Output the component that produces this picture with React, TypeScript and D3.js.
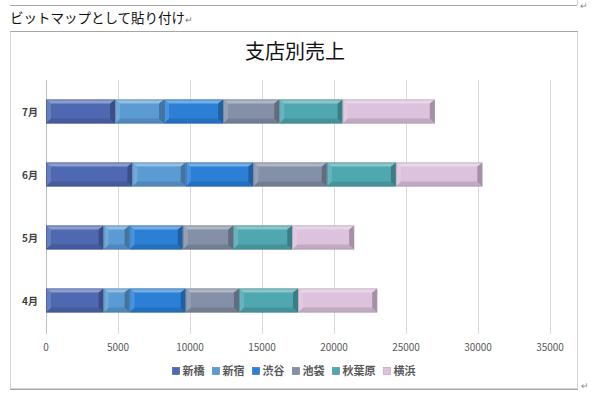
import React from "react";
import * as d3 from "d3";

// 月ごとの店舗別売上
const months = ["7月", "6月", "5月", "4月"];
const stores = ["新橋", "新宿", "渋谷", "池袋", "秋葉原", "横浜"];
const shinbashi = [4800, 6000, 4000, 4000];
const shinjuku = [3400, 3700, 1800, 1800];
const shibuya = [4100, 4700, 3700, 3900];
const ikebukuro = [3900, 5100, 3500, 3700];
const akihabara = [4400, 4800, 4100, 4100];
const yokohama = [6400, 6000, 4300, 5500];
const xTicks = [0, 5000, 10000, 15000, 20000, 25000, 30000, 35000];

const colors = ["#4f68b2", "#5b9bd3", "#2b80d6", "#8490a8", "#4fa7b0", "#dcc2dc"];
const FONT = "'Noto Sans CJK JP', 'Noto Sans', sans-serif";

type Row = { month: string; [k: string]: string | number };

const BevelBar = ({ x0, x1, y0, y1, color }: { x0: number; x1: number; y0: number; y1: number; color: string }) => {
  const b = Math.min(5, (x1 - x0) / 3);
  const bt = 4;
  const bb = 5;
  const edge = d3.color(color)!.darker(0.7).toString();
  const pts = (p: number[][]) => p.map((q) => q.join(",")).join(" ");
  return (
    <g>
      <rect x={x0} y={y0} width={x1 - x0} height={y1 - y0} fill={color} />
      <polygon points={pts([[x0, y0], [x1, y0], [x1 - b, y0 + bt], [x0 + b, y0 + bt]])} fill="#fff" fillOpacity={0.35} />
      <polygon points={pts([[x0, y1], [x1, y1], [x1 - b, y1 - bb], [x0 + b, y1 - bb]])} fill="#000" fillOpacity={0.12} />
      <polygon points={pts([[x0, y0], [x0 + b, y0 + bt], [x0 + b, y1 - bb], [x0, y1]])} fill="#fff" fillOpacity={0.15} />
      <polygon points={pts([[x1, y0], [x1 - b, y0 + bt], [x1 - b, y1 - bb], [x1, y1]])} fill="#000" fillOpacity={0.25} />
      <rect x={x0 + 0.4} y={y0 + 0.4} width={x1 - x0 - 0.8} height={y1 - y0 - 0.8} fill="none" stroke={edge} strokeWidth={0.8} strokeOpacity={0.7} />
    </g>
  );
};

export default function App() {
  const series = [shinbashi, shinjuku, shibuya, ikebukuro, akihabara, yokohama];
  const rows: Row[] = months.map((m, i) => {
    const r: Row = { month: m };
    stores.forEach((s, j) => (r[s] = series[j][i]));
    return r;
  });
  const stacked = d3.stack<Row>().keys(stores)(rows);

  const x = d3.scaleLinear().domain([0, 35000]).range([46, 550]);
  const y = d3.scaleBand().domain(months).range([80, 332]).paddingInner(0.62).paddingOuter(0.31);

  // 凡例の配置
  const charW = 11;
  const itemW = stores.map((s) => 10 + s.length * charW);
  const gap = 8;
  const totalW = d3.sum(itemW) + gap * (stores.length - 1);
  let lx = 294 - totalW / 2;
  const legendPos = itemW.map((w) => {
    const p = lx;
    lx += w + gap;
    return p;
  });

  return (
    <svg width={600} height={397} style={{ position: "absolute", left: 0, top: 0, background: "#fff" }} fontFamily={FONT}>
      {/* 文書の枠 */}
      <line x1={10} x2={577} y1={5.5} y2={5.5} stroke="#a6a6a6" />
      <line x1={577.5} x2={577.5} y1={0} y2={5} stroke="#d0d0d0" />
      <text x={580} y={9} fontSize={9} fill="#888">↵</text>
      <text x={10} y={23} fontSize={13.5} fill="#111">
        ビットマップとして貼り付け<tspan fontSize={9} fill="#777">↵</tspan>
      </text>
      <rect x={10.5} y={31.5} width={567} height={357} fill="#fff" stroke="#d4d4d4" />
      <line x1={10} x2={578} y1={31.5} y2={31.5} stroke="#a6a6a6" />
      <line x1={10} x2={578} y1={389.5} y2={389.5} stroke="#a6a6a6" />
      <text x={581} y={389} fontSize={9} fill="#888">↵</text>

      <text x={295} y={59} textAnchor="middle" fontSize={20} fill="#111">支店別売上</text>

      {xTicks.map((t) => (
        <g key={t}>
          {t > 0 && <line x1={x(t) + 0.5} x2={x(t) + 0.5} y1={80} y2={334} stroke="#d9d9d9" />}
          <text x={x(t)} y={351} textAnchor="middle" fontSize={10} fill="#595959">{t}</text>
        </g>
      ))}
      <line x1={46.5} x2={46.5} y1={80} y2={334} stroke="#bfbfbf" />

      {months.map((m) => (
        <text key={m} x={38} y={y(m)! + y.bandwidth() / 2 + 4} textAnchor="end" fontSize={10} fontWeight="bold" fill="#404040">{m}</text>
      ))}

      {stacked.map((s, si) =>
        s.map((d, i) => (
          <BevelBar
            key={si + "-" + i}
            x0={x(d[0])}
            x1={x(d[1])}
            y0={y(rows[i].month)!}
            y1={y(rows[i].month)! + y.bandwidth()}
            color={colors[si]}
          />
        ))
      )}

      {stores.map((s, i) => (
        <g key={s} transform={`translate(${legendPos[i]},371)`}>
          <rect x={0} y={-3.5} width={7} height={7} fill={colors[i]} stroke={d3.color(colors[i])!.darker(0.6).toString()} strokeWidth={0.6} />
          <text x={10} y={4} fontSize={11} fontWeight="bold" fill="#595959">{s}</text>
        </g>
      ))}
    </svg>
  );
}
